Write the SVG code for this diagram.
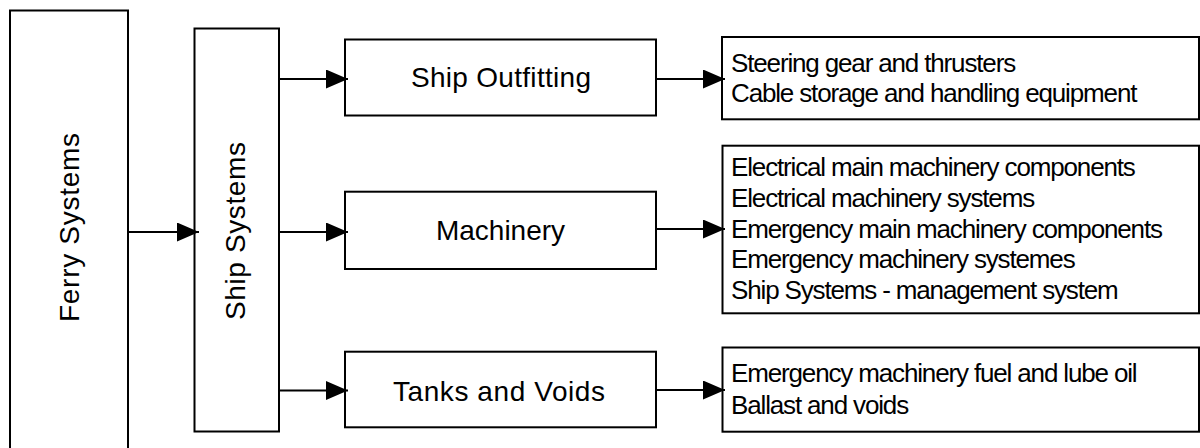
<svg xmlns="http://www.w3.org/2000/svg" width="1200" height="448" viewBox="0 0 1200 448">
  <style>
    .box { fill: #ffffff; stroke: #000000; stroke-width: 2; }
    .lbl { font-family: "Liberation Sans", Arial, sans-serif; font-size: 28px; fill: #000000; text-anchor: middle; }
    .lst { font-family: "Liberation Sans", Arial, sans-serif; font-size: 26px; letter-spacing: -1.15px; fill: #000000; }
    .conn { stroke: #000000; stroke-width: 2; fill: none; marker-end: url(#arrow); }
  </style>
  <defs>
    <marker id="arrow" markerUnits="userSpaceOnUse" markerWidth="23" markerHeight="20" refX="22" refY="9.5" orient="auto">
      <path d="M0,0 L22,9.5 L0,19 Z" fill="#000000"/>
    </marker>
  </defs>
  <rect width="1200" height="448" fill="#ffffff"/>

  <g id="ferry-systems">
    <rect class="box" x="10" y="10.5" width="118" height="450"/>
    <text class="lbl" transform="translate(79,227.5) rotate(-90)" textLength="189">Ferry Systems</text>
  </g>

  <g id="ship-systems">
    <rect class="box" x="194.5" y="28.5" width="84.5" height="403"/>
    <text class="lbl" transform="translate(244.5,231) rotate(-90)" textLength="178">Ship Systems</text>
  </g>

  <g id="ship-outfitting">
    <rect class="box" x="345" y="39.5" width="311" height="76"/>
    <text class="lbl" x="501" y="87.3" textLength="180">Ship Outfitting</text>
  </g>

  <g id="machinery">
    <rect class="box" x="345" y="191.7" width="311" height="77.3"/>
    <text class="lbl" x="500.5" y="240.3">Machinery</text>
  </g>

  <g id="tanks-and-voids">
    <rect class="box" x="345" y="351.7" width="311" height="75.6"/>
    <text class="lbl" x="499" y="400.5" textLength="212">Tanks and Voids</text>
  </g>

  <g id="outfitting-items">
    <rect class="box" x="722" y="37" width="477" height="82.3"/>
    <text class="lst" x="731" y="71.7">Steering gear and thrusters</text>
    <text class="lst" x="731" y="101.7">Cable storage and handling equipment</text>
  </g>

  <g id="machinery-items">
    <rect class="box" x="722.5" y="145.7" width="476.5" height="167.6"/>
    <text class="lst" x="731" y="175.7">Electrical main machinery components</text>
    <text class="lst" x="731" y="206.7">Electrical machinery systems</text>
    <text class="lst" x="731" y="237.5">Emergency main machinery components</text>
    <text class="lst" x="731" y="268.3">Emergency machinery systemes</text>
    <text class="lst" x="731" y="299.3">Ship Systems - management system</text>
  </g>

  <g id="tanks-items">
    <rect class="box" x="722.5" y="347.5" width="476.5" height="84.2"/>
    <text class="lst" x="731" y="381.7">Emergency machinery fuel and lube oil</text>
    <text class="lst" x="731" y="414.3">Ballast and voids</text>
  </g>

  <g id="connectors">
    <line class="conn" x1="128" y1="232" x2="199" y2="232"/>
    <line class="conn" x1="279" y1="79" x2="348" y2="79"/>
    <line class="conn" x1="279" y1="232" x2="348" y2="232"/>
    <line class="conn" x1="279" y1="390.5" x2="348" y2="390.5"/>
    <line class="conn" x1="656" y1="79" x2="725" y2="79"/>
    <line class="conn" x1="656" y1="229" x2="725" y2="229"/>
    <line class="conn" x1="656" y1="390" x2="725" y2="390"/>
  </g>
</svg>
